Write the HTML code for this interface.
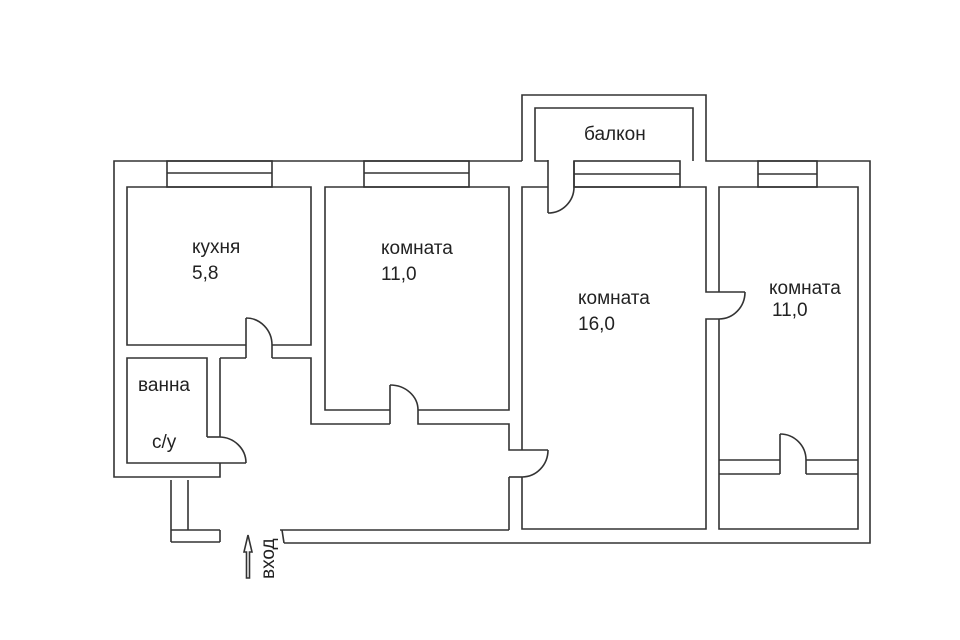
<!DOCTYPE html>
<html><head><meta charset="utf-8"><style>
html,body{margin:0;padding:0;background:#fff}
svg{display:block}
text{font-family:"Liberation Sans",sans-serif;font-size:19px;fill:#222}
</style></head><body>
<svg width="960" height="640" viewBox="0 0 960 640" xmlns="http://www.w3.org/2000/svg">
<g fill="none" stroke="#333" stroke-width="1.6">
<polyline points="522,161 522,95 706,95 706,161 870,161 870,543 284,543"/>
<polyline points="522,161 114,161 114,477 220,477 220,463"/>
<polyline points="548,161 535,161 535,108 693,108 693,161"/>
<rect x="167" y="161" width="105" height="26"/><line x1="167" y1="173" x2="272" y2="173"/>
<rect x="364" y="161" width="105" height="26"/><line x1="364" y1="173" x2="469" y2="173"/>
<rect x="574" y="161" width="106" height="26"/><line x1="574" y1="174" x2="680" y2="174"/>
<rect x="758" y="161" width="59" height="26"/><line x1="758" y1="174" x2="817" y2="174"/>
<polyline points="246,345 127,345 127,187 311,187 311,345 272,345"/>
<line x1="246" y1="318" x2="246" y2="358"/><path d="M246,318 A26,27 0 0 1 272,345"/>
<line x1="272" y1="345" x2="272" y2="358"/>
<polyline points="272,358 311,358 311,424 390,424"/>
<line x1="246" y1="358" x2="220" y2="358"/>
<polyline points="220,358 220,437"/>
<polyline points="207,437 207,358 127,358 127,463 246,463"/>
<line x1="207" y1="437" x2="219" y2="437"/><path d="M219,437 A27,26 0 0 1 246,463"/>
<line x1="171" y1="480" x2="171" y2="542"/><line x1="188" y1="480" x2="188" y2="530"/>
<line x1="171" y1="530" x2="220" y2="530"/><line x1="171" y1="542" x2="220" y2="542"/>
<line x1="220" y1="530" x2="220" y2="542"/>
<line x1="280" y1="530" x2="509" y2="530"/>
<line x1="282" y1="530" x2="284" y2="543"/>
<polygon points="248,535 244,552 246.5,552 246.5,578 249.5,578 249.5,552 252,552"/>
<polyline points="390,410 325,410 325,187 509,187 509,410 418,410"/>
<line x1="390" y1="385" x2="390" y2="424"/><path d="M390,385 A28,25 0 0 1 418,410"/>
<polyline points="418,410 418,424 509,424 509,450 548,450"/>
<path d="M548,450 A26,27 0 0 1 522,477"/>
<polyline points="509,477 522,477"/>
<line x1="509" y1="477" x2="509" y2="530"/>
<polyline points="548,187 522,187 522,450"/>
<polyline points="522,477 522,529 706,529 706,319 719,319"/>
<polyline points="574,187 706,187 706,292 745,292"/>
<line x1="548" y1="160" x2="548" y2="213"/><path d="M548,213 A26,26 0 0 0 574,187"/>
<line x1="574" y1="161" x2="574" y2="187"/>
<path d="M745,292 A26,27 0 0 1 719,319"/>
<polyline points="719,292 719,187 858,187 858,529 719,529 719,319"/>
<line x1="719" y1="460" x2="780" y2="460"/><line x1="806" y1="460" x2="858" y2="460"/>
<line x1="719" y1="474" x2="780" y2="474"/><line x1="806" y1="474" x2="858" y2="474"/>
<line x1="780" y1="434" x2="780" y2="474"/><path d="M780,434 A26,26 0 0 1 806,460"/>
<line x1="806" y1="460" x2="806" y2="474"/>
</g>
<text x="192" y="253">кухня</text><text x="192" y="279">5,8</text>
<text x="381" y="254">комната</text><text x="381" y="280">11,0</text>
<text x="578" y="304">комната</text><text x="578" y="330">16,0</text>
<text x="769" y="294">комната</text><text x="772" y="316">11,0</text>
<text x="138" y="391">ванна</text><text x="152" y="448">с/у</text>
<text x="584" y="140">балкон</text>
<text transform="translate(274,579) rotate(-90)">вход</text>
</svg>
</body></html>
